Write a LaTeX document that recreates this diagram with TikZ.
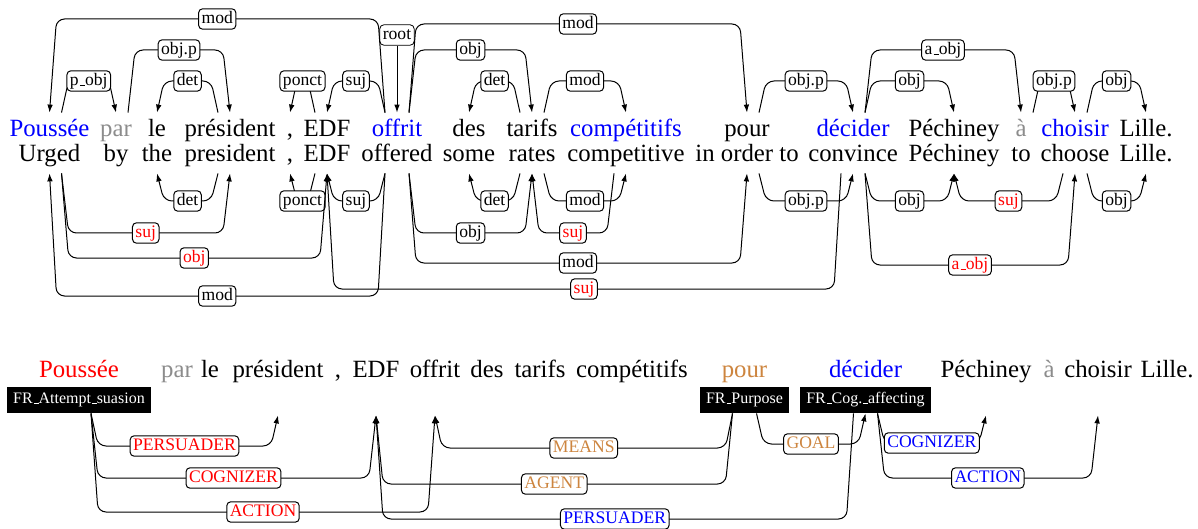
\documentclass[tikz,border=0pt]{standalone}
\usepackage{fontspec}
\setmainfont{Liberation Serif}
\usetikzlibrary{calc,arrows.meta}
\definecolor{grayword}{RGB}{140,140,140}
\definecolor{pourcol}{RGB}{205,133,63}
\newcommand{\usc}{\leavevmode\kern.06em\vbox{\hrule width.3em}}
\tikzset{
  word/.style={inner sep=0pt, text height=12pt, text depth=5.5pt, anchor=base},
  bword/.style={inner sep=0pt, text height=12pt, text depth=19pt, anchor=base},
  deplabel/.style={draw, fill=white, rounded corners=2pt, inner xsep=1.5pt, inner ysep=1pt,
    text height=6.3pt, text depth=1.9pt, font=\fontsize{8.8}{10}\selectfont},
  framebox/.style={fill=black, text=white, inner xsep=3pt, inner ysep=0pt, minimum height=13pt,
    font=\fontsize{8}{9}\selectfont},
  depline/.style={->, >={Latex[length=4pt,width=2.8pt]}, line width=0.5pt, rounded corners=4pt},
}
% #2 from, #3 to, #4 anchor, #5 level (y), #6 label
\newcommand{\depedge}[6][black]{%
  \draw[depline] let \p1=(#2.#4), \p2=(#3.#4), \n1={sign(\x2-\x1)} in
    ({\x1+(\n1*6pt)},\y1) -- ({\x1+(\n1*9.5pt)},{-0.5pt*#5})
    -- node[deplabel, text=#1] {#6} ({\x2-(\n1*3.5pt)},{-0.5pt*#5}) -- (\p2);}

\begin{document}
\begin{tikzpicture}[x=0.5pt, y=-0.5pt, font=\fontsize{12.4}{14}\selectfont]
    \useasboundingbox (0,0) rectangle (1198,529);
    % glossed sentence
    \foreach \x/\fr/\en/\col [count=\i] in {49.5/Poussée/Urged/blue, 116/par/by/grayword,
      157/le/the/black, 230/président/president/black, 290/{,}/{,}/black, 327/EDF/EDF/black,
      397/offrit/offered/blue, 469/des/some/black, 532/tarifs/rates/black,
      626/compétitifs/competitive/blue, 747/pour/in order to/black, 853/décider/convince/blue,
      954/Péchiney/Péchiney/black, 1021/à/to/grayword, 1075/choisir/choose/blue,
      1146/Lille./Lille./black}
    {
      \node[word, text=\col] (f\i) at (\x,137) {\fr};
      \node[word] (e\i) at (\x,162) {\en};
    }
    \node[deplabel] (root) at (397,35) {root};
    \draw[depline] (root) -- (f7.north);
    \depedge{f7}{f1}{north}{19}{mod}
    \depedge{f1}{f2}{north}{81}{p\usc obj}
    \depedge{f2}{f4}{north}{50}{obj.p}
    \depedge{f4}{f3}{north}{81}{det}
    \depedge{f6}{f5}{north}{81}{ponct}
    \depedge{f7}{f6}{north}{81}{suj}
    \depedge{f7}{f11}{north}{24}{mod}
    \depedge{f7}{f9}{north}{50}{obj}
    \depedge{f9}{f8}{north}{81}{det}
    \depedge{f9}{f10}{north}{81}{mod}
    \depedge{f11}{f12}{north}{81}{obj.p}
    \depedge{f12}{f14}{north}{50}{a\usc obj}
    \depedge{f12}{f13}{north}{81}{obj}
    \depedge{f14}{f15}{north}{81}{obj.p}
    \depedge{f15}{f16}{north}{81}{obj}
    % below the gloss
    \depedge{e4}{e3}{south}{201}{det}
    \depedge{e6}{e5}{south}{201}{ponct}
    \depedge{e7}{e6}{south}{201}{suj}
    \depedge[red]{e1}{e4}{south}{233}{suj}
    \depedge[red]{e1}{e6}{south}{258}{obj}
    \depedge{e7}{e1}{south}{296}{mod}
    \depedge{e9}{e8}{south}{201}{det}
    \depedge{e7}{e9}{south}{233}{obj}
    \depedge{e9}{e10}{south}{201}{mod}
    \depedge[red]{e10}{e9}{south}{233}{suj}
    \depedge{e7}{e11}{south}{263}{mod}
    \depedge[red]{e12}{e6}{south}{289}{suj}
    \depedge{e11}{e12}{south}{201}{obj.p}
    \depedge{e12}{e13}{south}{201}{obj}
    \depedge[red]{e15}{e13}{south}{201}{suj}
    \depedge[red]{e12}{e15}{south}{265}{a\usc obj}
    \depedge{e15}{e16}{south}{201}{obj}
    % frames
    \foreach \x/\w/\col [count=\i] in {79/Poussée/red, 177/par/grayword, 210/le/black,
      278/président/black, 338/{,}/black, 376/EDF/black, 435/offrit/black, 487/des/black,
      540/tarifs/black, 632/compétitifs/black, 744.5/pour/pourcol, 865.5/décider/blue,
      986/Péchiney/black, 1049/à/grayword, 1098/choisir/black, 1167/Lille./black}
    {
      \node[bword, text=\col] (b\i) at (\x,377) {\w};
    }
    \node[framebox] (fr1) at (79,400) {FR\usc Attempt\usc suasion};
    \node[framebox] (fr2) at (744.5,400) {FR\usc Purpose};
    \node[framebox] (fr3) at (865.5,400) {FR\usc Cog.\usc affecting};
    \depedge[red]{fr1}{b4}{south}{446}{PERSUADER}
    \depedge[red]{fr1}{b6}{south}{478}{COGNIZER}
    \depedge[red]{fr1}{b7}{south}{512}{ACTION}
    \depedge[pourcol]{fr2}{b7}{south}{448}{MEANS}
    \depedge[pourcol]{fr2}{b6}{south}{484}{AGENT}
    \depedge[pourcol]{fr2}{fr3}{south}{444}{GOAL}
    \depedge[blue]{fr3}{b6}{south}{519}{PERSUADER}
    \depedge[blue]{fr3}{b13}{south}{443}{COGNIZER}
    \depedge[blue]{fr3}{b15}{south}{478}{ACTION}
\end{tikzpicture}
\end{document}
